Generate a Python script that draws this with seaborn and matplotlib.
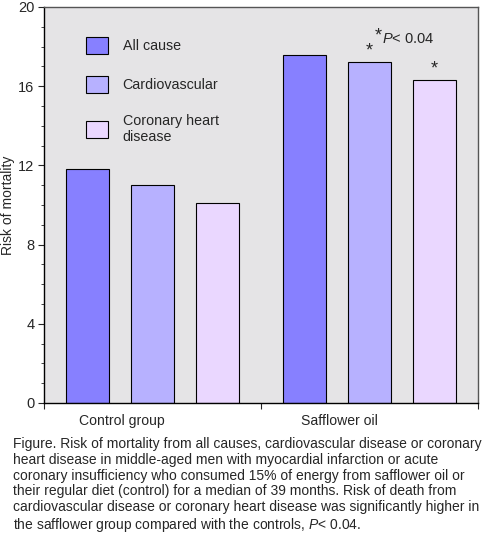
import numpy as np
import pandas as pd
import matplotlib.pyplot as plt
import matplotlib.transforms as mtransforms
from matplotlib.ticker import MultipleLocator, FixedLocator
import seaborn as sns

groups = ["Control group", "Safflower oil"]
causes = ["All cause", "Cardiovascular", "Coronary heart\ndisease"]
risk_control = [11.8, 11.0, 10.1]
risk_safflower = [17.6, 17.2, 16.3]
starred = [False, True, True]  # safflower bars marked significant
colors = ["#8780ff", "#b7b1ff", "#ead7ff"]

caption = ("Figure. Risk of mortality from all causes, cardiovascular disease or coronary\n"
           "heart disease in middle-aged men with myocardial infarction or acute\n"
           "coronary insufficiency who consumed 15% of energy from safflower oil or\n"
           "their regular diet (control) for a median of 39 months. Risk of death from\n"
           "cardiovascular disease or coronary heart disease was significantly higher in\n"
           "the safflower group compared with the controls, $P$< 0.04.")

df = pd.DataFrame({
    "group": [groups[0]] * 3 + [groups[1]] * 3,
    "cause": causes * 2,
    "risk": risk_control + risk_safflower,
})

sns.set_style("white")
plt.rcParams["font.family"] = ["Liberation Sans", "DejaVu Sans"]
plt.rcParams["mathtext.fontset"] = "custom"
plt.rcParams["mathtext.it"] = "Liberation Sans:italic"
plt.rcParams["mathtext.rm"] = "Liberation Sans"

fig = plt.figure(figsize=(4.98, 5.4), dpi=100)
ax = fig.add_axes([44 / 498, 1 - 403 / 540, 434 / 498, 396 / 540])
ax.set_facecolor("#e5e4e6")

sns.barplot(data=df, x="group", y="risk", hue="cause", hue_order=causes,
            palette=colors, width=0.9, gap=1 / 3, edgecolor="black",
            linewidth=0.8, saturation=1, ax=ax)

ax.set_ylim(0, 20)
ax.set_xlim(-0.5, 1.5)
ax.yaxis.set_major_locator(MultipleLocator(4))
ax.yaxis.set_minor_locator(MultipleLocator(1))
ax.tick_params(axis="y", which="major", length=4, width=0.8, direction="out",
               labelsize=10.5, pad=3, left=True)
ax.tick_params(axis="y", which="minor", length=2, width=0.6, direction="out", left=True)

# x ticks at category boundaries, labels without tick marks
ax.set_xticks([0, 1])
ax.set_xticklabels(groups, fontsize=10.1)
ax.tick_params(axis="x", which="major", length=0, pad=8)
ax.xaxis.set_minor_locator(FixedLocator([-0.5, 0.5, 1.5]))
ax.tick_params(axis="x", which="minor", length=4, width=0.8, direction="out", bottom=True)
offset = mtransforms.ScaledTranslation(-22 / 72, 0, fig.dpi_scale_trans)
for lab in ax.get_xticklabels():
    lab.set_transform(lab.get_transform() + offset)

ax.set_xlabel("")
ax.set_ylabel("Risk of mortality", fontsize=10)
ax.yaxis.set_label_coords(-0.066, 0.5)

for side in ["left", "bottom"]:
    ax.spines[side].set_color("black")
    ax.spines[side].set_linewidth(1.0)
for side in ["top", "right"]:
    ax.spines[side].set_color("#555555")
    ax.spines[side].set_linewidth(1.0)

# significance stars on safflower bars
bars = [c[1] for c in ax.containers]
for bar, star, val in zip(bars, starred, risk_safflower):
    if star:
        ax.annotate("*", xy=(bar.get_x() + bar.get_width() / 2, val),
                    xytext=(0, 2), textcoords="offset points",
                    ha="center", va="bottom", fontsize=13)
ax.annotate("*", xy=(bars[1].get_x() + bars[1].get_width() / 2, risk_safflower[1]),
            xytext=(6, 13), textcoords="offset points", ha="center", va="bottom", fontsize=13)
ax.annotate("$P$< 0.04", xy=(bars[1].get_x() + bars[1].get_width() / 2, risk_safflower[1]),
            xytext=(9, 12), textcoords="offset points", ha="left", va="bottom", fontsize=10.5)

h, l = ax.get_legend_handles_labels()
ax.legend(h, l, loc="upper left", bbox_to_anchor=(0.097, 0.924), frameon=False,
          borderpad=0, borderaxespad=0, handlelength=1.55, handleheight=1.45,
          handletextpad=1.0, labelspacing=1.5, fontsize=10.3)

fig.text(13 / 498, 1 - 437 / 540, caption, ha="left", va="top", fontsize=10,
         linespacing=1.16)

fig.savefig("out.png", dpi=100)
